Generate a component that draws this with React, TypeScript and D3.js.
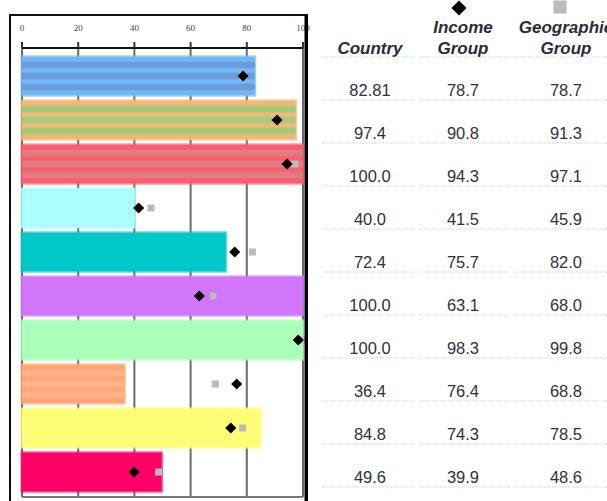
import React from "react";
import * as d3 from "d3";

// Scores per row: the country's own value and the two peer-group benchmarks
const countryValues = [82.81, 97.4, 100.0, 40.0, 72.4, 100.0, 100.0, 36.4, 84.8, 49.6];
const incomeValues = [78.7, 90.8, 94.3, 41.5, 75.7, 63.1, 98.3, 76.4, 74.3, 39.9];
const geoValues = [78.7, 91.3, 97.1, 45.9, 82.0, 68.0, 99.8, 68.8, 78.5, 48.6];
const xTicks = [0, 20, 40, 60, 80, 100];

// Bar fills: [main colour, stripe colour]
const barFills: [string, string][] = [
  ["#72b8f6", "#6a9ddb"],
  ["#f2b878", "#a9c97a"],
  ["#fb5e6e", "#e27b82"],
  ["#aaffff", "#aaffff"],
  ["#00c8c8", "#00c8c8"],
  ["#d176fb", "#d176fb"],
  ["#aaffbb", "#aaffbb"],
  ["#ffa774", "#ffb386"],
  ["#ffff77", "#ffff77"],
  ["#ff0066", "#ff0066"],
];

const W = 607;
const H = 501;
const fmt = (v: number) => (Math.abs(v * 10 - Math.round(v * 10)) < 1e-9 ? v.toFixed(1) : v.toFixed(2));

export default function App() {
  const rows = d3.range(countryValues.length);
  const x = d3.scaleLinear().domain([0, 100]).range([22, 303]);
  const y = d3.scaleBand<number>().domain(rows).range([54, 494]).paddingInner(0.13).paddingOuter(0.065);
  const rowY = d3.scaleBand<number>().domain(rows).range([57, 487]);
  const plotTop = 48;
  const plotBottom = 497;
  const stripes = 7;

  const diamond = d3.symbol(d3.symbolSquare, 62)()!;
  const square = d3.symbol(d3.symbolSquare, 49)()!;
  const legendDiamond = d3.symbol(d3.symbolSquare, 115)()!;
  const legendSquare = d3.symbol(d3.symbolSquare, 170)()!;

  const cols = [370, 463, 566];
  const segs: [number, number][] = [[323, 415], [420, 509], [514, 607]];
  const textColor = "#30303e";
  const font = "'Liberation Sans', Arial, sans-serif";

  return (
    <svg width={W} height={H} style={{ position: "absolute", left: 0, top: 0, display: "block", background: "#fff" }}>
      {/* grid lines */}
      {xTicks.map((t) => (
        <line key={"g" + t} x1={x(t)} x2={x(t)} y1={plotTop} y2={plotBottom} stroke="#6b6b6b" strokeWidth={2} />
      ))}
      <line x1={x(0)} x2={x(100)} y1={plotBottom} y2={plotBottom} stroke="#777" strokeWidth={2} />

      {/* bars */}
      {rows.map((i) => {
        const [a, b] = barFills[i];
        const y0 = y(i)!;
        const h = y.bandwidth();
        const w = x(countryValues[i]) - x(0);
        const sh = h / stripes;
        return (
          <g key={"b" + i}>
            <rect x={x(0)} y={y0} width={w} height={h} fill={a} stroke={a} strokeWidth={3} strokeOpacity={0.7} />
            {d3.range(stripes).filter((k) => k % 2 === 1).map((k) => (
              <rect key={k} x={x(0)} y={y0 + k * sh - 0.6} width={w} height={sh + 1.2} fill={b} />
            ))}
          </g>
        );
      })}

      {/* benchmark markers */}
      {rows.map((i) => {
        const cy = y(i)! + y.bandwidth() / 2;
        return (
          <g key={"m" + i}>
            <path d={square} transform={`translate(${x(geoValues[i])},${cy})`} fill="#bbbbbb" />
            <path d={diamond} transform={`translate(${x(incomeValues[i])},${cy}) rotate(45)`} fill="#000" />
          </g>
        );
      })}

      {/* top axis */}
      <line x1={x(0)} x2={x(100)} y1={plotTop} y2={plotTop} stroke="#111" strokeWidth={2} />
      {xTicks.map((t) => (
        <g key={"t" + t}>
          <line x1={x(t)} x2={x(t)} y1={plotTop - 6} y2={plotTop} stroke="#333" strokeWidth={2} />
          <text x={x(t)} y={31} textAnchor="middle" fontSize={9} fill="#444" fontFamily="'Liberation Serif', serif">
            {t}
          </text>
        </g>
      ))}

      {/* frame */}
      <rect x={10} y={15} width={297} height={495} fill="none" stroke="#111" strokeWidth={2} />
      <line x1={306} x2={306} y1={15} y2={H} stroke="#000" strokeWidth={3} />

      {/* table header */}
      <path d={legendDiamond} transform={`translate(${cols[1] - 4},8) rotate(45)`} fill="#000" />
      <path d={legendSquare} transform={`translate(${cols[2] - 6},7)`} fill="#bbbbbb" />
      <g fontFamily={font} fontWeight="bold" fontStyle="italic" fontSize={17} fill="#2b2b3a" textAnchor="middle">
        <text x={cols[0]} y={54}>Country</text>
        <text x={cols[1]} y={33}>Income</text>
        <text x={cols[1]} y={54}>Group</text>
        <text x={cols[2]} y={33}>Geographic</text>
        <text x={cols[2]} y={54}>Group</text>
      </g>
      {segs.map(([s, e], k) => (
        <line key={"h" + k} x1={s} x2={e} y1={57} y2={57} stroke="#d4d4d4" strokeWidth={1} strokeDasharray="1,1" />
      ))}

      {/* table rows */}
      {rows.map((i) => {
        const bottom = rowY(i)! + rowY.bandwidth();
        const vals = [countryValues[i], incomeValues[i], geoValues[i]];
        return (
          <g key={"r" + i}>
            {vals.map((v, k) => (
              <text key={k} x={cols[k]} y={bottom - 4.5} textAnchor="middle" fontFamily={font} fontSize={16.5} fill={textColor}>
                {fmt(v)}
              </text>
            ))}
            {segs.map(([s, e], k) => (
              <line key={"s" + k} x1={s} x2={e} y1={bottom} y2={bottom} stroke="#d4d4d4" strokeWidth={1} strokeDasharray="1,1" />
            ))}
          </g>
        );
      })}
    </svg>
  );
}
